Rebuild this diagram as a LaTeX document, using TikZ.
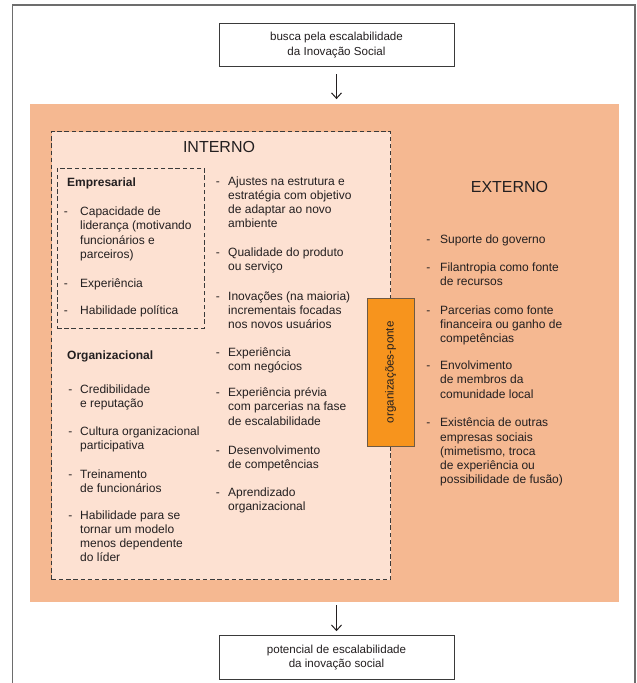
\documentclass[tikz,border=0pt]{standalone}
\usepackage{fontspec}
\setmainfont{Liberation Sans}
\usetikzlibrary{arrows.meta}
\definecolor{txt}{HTML}{231F20}
\definecolor{salmon}{HTML}{F5B891}
\definecolor{pinkbg}{HTML}{FDE1D2}
\definecolor{ponteor}{HTML}{F7941D}
\definecolor{pontebd}{HTML}{6E5A45}
\definecolor{dashline}{HTML}{3A3A3A}
\definecolor{framegray}{HTML}{6D6D6D}
\definecolor{boxline}{HTML}{3A3A3A}
\newcommand{\lns}[1]{\begin{tabular}[t]{@{}l@{}}#1\end{tabular}}
\begin{document}
\begin{tikzpicture}[x=1pt,y=-1pt,
  every node/.style={inner sep=0pt, text=txt},
  body/.style={font=\fontsize{12}{14.2}\selectfont},
  itm/.style={body, anchor=base west},
  dsh/.style={body, anchor=base east, xshift=-#1},
  dsh/.default=9pt,
  hd/.style={font=\fontsize{12}{14.2}\selectfont\bfseries, anchor=base west},
  ttl/.style={font=\fontsize{16}{19}\selectfont, anchor=base},
  endbox/.style={draw=boxline, line width=0.9pt, fill=white, minimum width=235pt, minimum height=43.4pt, align=center, font=\fontsize{11.6}{14.6}\selectfont},
  dashbox/.style={draw=dashline, line width=0.9pt, dash pattern=on 4.5pt off 2.7pt},
  arr/.style={-{Straight Barb[length=5.5pt,width=10pt]}, line width=1pt, draw=txt},
]
\useasboundingbox (0,0) rectangle (637,683);
\fill[white] (0,0) rectangle (637,683);
\draw[framegray, line width=1.2pt] (12.7,683) -- (12.7,5) -- (635,5) -- (635,683);

% boxes
\node[endbox] (top) at (336.5,45) {busca pela escalabilidade\\da Inovação Social};
\node[fill=salmon, minimum width=588.7pt, minimum height=497.2pt] (orng) at (324.35,352.9) {};
\node[dashbox, fill=pinkbg, minimum width=339.1pt, minimum height=447.8pt] (int) at (221.25,355.6) {};
\node[dashbox, minimum width=147pt, minimum height=160pt] (emp) at (130.5,248) {};
\node[draw=pontebd, fill=ponteor, line width=0.8pt, rotate=90, minimum width=147.5pt, minimum height=47.5pt, font=\fontsize{11.6}{14}\selectfont] (ponte) at (390.75,372.25) {organizações-ponte};
\node[endbox] (bot) at (336.5,657.35) {potencial de escalabilidade\\da inovação social};

% arrows
\draw[arr, shorten <=7.3pt, shorten >=5pt] (top.south) -- (top.south |- orng.north);
\draw[arr, shorten <=3.5pt, shorten >=4pt] (orng.south -| bot.north) -- (bot.north);

% titles
\node[ttl] (intt) at (219,152) {INTERNO};
\node[ttl] (extt) at (509.5,192) {EXTERNO};
\node[hd] (emph) at (67,186) {Empresarial};
\node[hd] (orgh) at (67,359) {Organizacional};

% Empresarial
\node[itm] (e1) at (80,215.7) {\lns{Capacidade de\\liderança (motivando\\funcionários e\\parceiros)}};
\node[itm] (e2) at (80,287) {\lns{Experiência}};
\node[itm] (e3) at (80,314) {\lns{Habilidade política}};
\foreach \n in {e1,e2,e3} \node[dsh=12pt] at (\n.base west) {-};

% Organizacional
\node[itm] (o1) at (80,393) {\lns{Credibilidade\\e reputação}};
\node[itm] (o2) at (80,435) {\lns{Cultura organizacional\\participativa}};
\node[itm] (o3) at (80,478) {\lns{Treinamento\\de funcionários}};
\node[itm] (o4) at (80,519) {\lns{Habilidade para se\\tornar um modelo\\menos dependente\\do líder}};
\foreach \n in {o1,o2,o3,o4} \node[dsh=7.5pt] at (\n.base west) {-};

% middle column
\node[itm] (m1) at (228,185) {\lns{Ajustes na estrutura e\\estratégia com objetivo\\de adaptar ao novo\\ambiente}};
\node[itm] (m2) at (228,256.7) {\lns{Qualidade do produto\\ou serviço}};
\node[itm] (m3) at (228,300) {\lns{Inovações (na maioria)\\incrementais focadas\\nos novos usuários}};
\node[itm] (m4) at (228,356) {\lns{Experiência\\com negócios}};
\node[itm] (m5) at (228,396.7) {\lns{Experiência prévia\\com parcerias na fase\\de escalabilidade}};
\node[itm] (m6) at (228,454) {\lns{Desenvolvimento\\de competências}};
\node[itm] (m7) at (228,496.7) {\lns{Aprendizado\\organizacional}};
\foreach \n in {m1,m2,m3,m4,m5,m6,m7} \node[dsh=8pt] at (\n.base west) {-};

% external
\node[itm] (x1) at (440,243.4) {\lns{Suporte do governo}};
\node[itm] (x2) at (440,271.7) {\lns{Filantropia como fonte\\de recursos}};
\node[itm] (x3) at (440,314) {\lns{Parcerias como fonte\\financeira ou ganho de\\competências}};
\node[itm] (x4) at (440,369.7) {\lns{Envolvimento\\de membros da\\comunidade local}};
\node[itm] (x5) at (440,426.8) {\lns{Existência de outras\\empresas sociais\\(mimetismo, troca\\de experiência ou\\possibilidade de fusão)}};
\foreach \n in {x1,x2,x3,x4,x5} \node[dsh=9.5pt] at (\n.base west) {-};
\end{tikzpicture}
\end{document}
